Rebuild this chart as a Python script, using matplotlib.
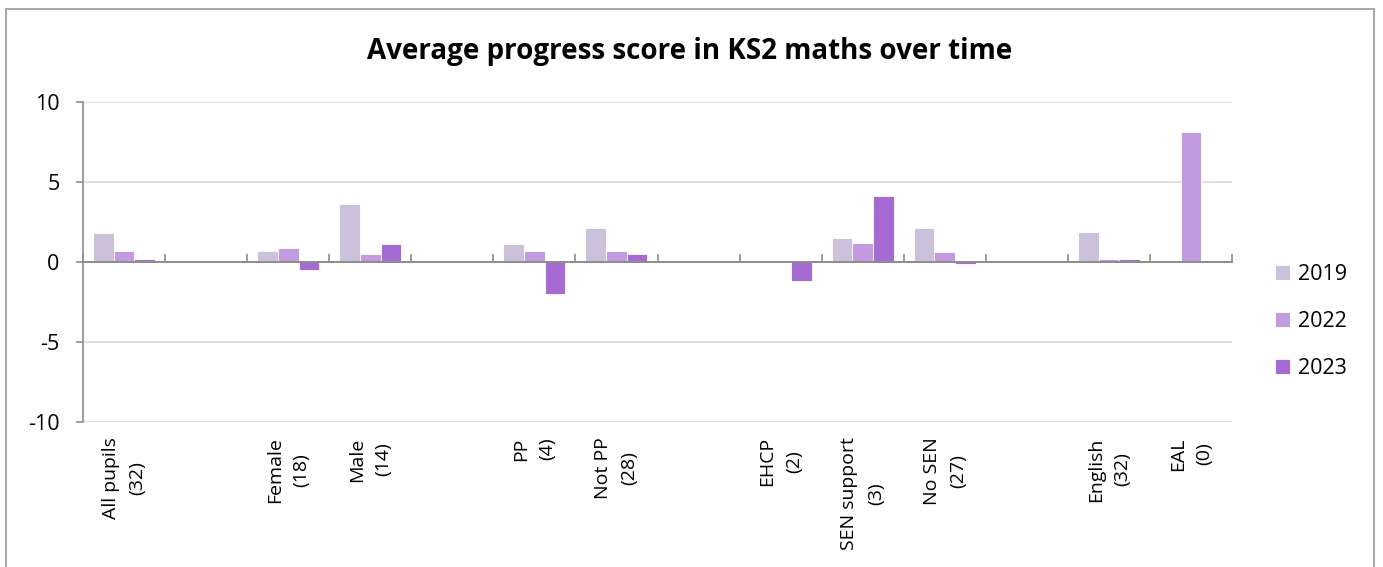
import numpy as np
import matplotlib
matplotlib.use("Agg")
import matplotlib.pyplot as plt
from matplotlib.patches import Rectangle

nan = np.nan

categories = ["All pupils\n(32)", "", "Female\n(18)", "Male\n(14)", "",
              "PP\n(4)", "Not PP\n(28)", "", "EHCP\n(2)", "SEN support\n(3)",
              "No SEN\n(27)", "", "English\n(32)", "EAL\n(0)"]
years = ["2019", "2022", "2023"]
score_2019 = [1.8, nan, 0.7, 3.6, nan, 1.1, 2.1, nan, nan, 1.5, 2.1, nan, 1.9, nan]
score_2022 = [0.7, nan, 0.9, 0.5, nan, 0.7, 0.7, nan, nan, 1.2, 0.6, nan, 0.2, 8.1]
score_2023 = [0.2, nan, -0.5, 1.1, nan, -2.0, 0.5, nan, -1.2, 4.1, -0.1, nan, 0.2, nan]
y_ticks = [-10, -5, 0, 5, 10]

colors = ["#CBC1DB", "#C29ADF", "#A56BD2"]
axis_grey = "#8C8C8C"
grid_grey = "#D9D9D9"

plt.rcParams["font.family"] = ["Open Sans", "DejaVu Sans"]

W, H = 1383, 567
fig = plt.figure(figsize=(W / 100, H / 100), dpi=100)
ax = fig.add_axes([83 / W, 1 - 422 / H, (1232 - 83) / W, (422 - 102) / H])

x = np.arange(len(categories))
bar_w = 0.252
series = [score_2019, score_2022, score_2023]
handles = []
for i, (vals, col, lab) in enumerate(zip(series, colors, years)):
    b = ax.bar(x + (i - 1) * bar_w, vals, width=bar_w, color=col,
               edgecolor="white", linewidth=0.6, label=lab, zorder=3)
    handles.append(b)

ax.set_xlim(-0.5, len(categories) - 0.5)
ax.set_ylim(-10, 10)
ax.set_yticks(y_ticks)
ax.set_yticklabels([str(v) for v in y_ticks])
ax.yaxis.grid(True, color=grid_grey, linewidth=1.2, zorder=0)
ax.set_axisbelow(True)

for s in ("top", "right", "bottom"):
    ax.spines[s].set_visible(False)
ax.spines["left"].set_color(axis_grey)
ax.spines["left"].set_linewidth(1.2)
ax.tick_params(axis="y", length=5, width=1.2, color=axis_grey, pad=12,
               labelsize=15.5, labelcolor="black")

# category labels under the plot area
ax.set_xticks(x)
ax.set_xticklabels(categories, rotation=90, ha="center", va="top",
                   fontsize=14, linespacing=1.6)
for t in ax.get_xticklabels():
    t.set_multialignment("center")
ax.tick_params(axis="x", length=0, pad=11)

# horizontal axis through zero with ticks between categories
zero_axis = ax.secondary_xaxis(0.5)
zero_axis.set_xticks(np.arange(len(categories) + 1) - 0.5)
zero_axis.set_xticklabels([])
zero_axis.tick_params(axis="x", direction="out", length=6, width=1.2,
                      color=axis_grey)
for sp in zero_axis.spines.values():
    sp.set_edgecolor(axis_grey)
    sp.set_linewidth(1.4)
zero_axis.set_zorder(4)

fig.text(690 / W, 1 - 52 / H, "Average progress score in KS2 maths over time",
         ha="center", va="center", fontsize=20, fontweight="bold")

fig.legend(handles=handles, labels=years, loc="center left",
           bbox_to_anchor=(1275 / W, 1 - 321.5 / H), frameon=False,
           fontsize=15.5, handlelength=0.7, handleheight=0.7,
           handletextpad=0.35, labelspacing=1.2, borderpad=0,
           borderaxespad=0)

fig.add_artist(Rectangle((6 / W, -0.05), (1374 - 6) / W, 1.05 - 9 / H,
                         transform=fig.transFigure, fill=False,
                         edgecolor="#9A9A9A", linewidth=1.2))

fig.savefig("out.png", dpi=100)
